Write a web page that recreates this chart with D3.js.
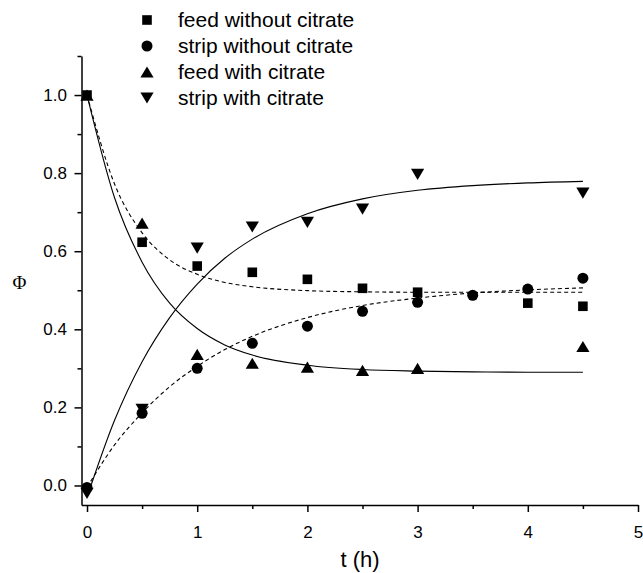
<!DOCTYPE html>
<html lang="en">
<head>
<meta charset="UTF-8">
<title>Phi vs t</title>
<script src="https://d3js.org/d3.v7.min.js"></script>
<style>
  body { margin: 0; background: #fff; }
  svg text { font-family: "Liberation Sans", Arial, sans-serif; fill: #000; }
</style>
</head>
<body>
<div id="chart"></div>
<script>
// measured points
var seriesNames = ["feed without citrate", "strip without citrate", "feed with citrate", "strip with citrate"];
var tSquare = [0, 0.5, 1, 1.5, 2, 2.5, 3, 4, 4.5];
var feedWithout = [1.0, 0.623, 0.562, 0.546, 0.528, 0.505, 0.495, 0.467, 0.459];
var tCircle = [0, 0.5, 1, 1.5, 2, 2.5, 3, 3.5, 4, 4.5];
var stripWithout = [-0.005, 0.185, 0.300, 0.364, 0.408, 0.446, 0.469, 0.487, 0.503, 0.531];
var tTri = [0, 0.5, 1, 1.5, 2, 2.5, 3, 4.5];
var feedWith = [1.0, 0.672, 0.336, 0.313, 0.303, 0.295, 0.300, 0.356];
var stripWith = [-0.02, 0.195, 0.608, 0.662, 0.674, 0.708, 0.797, 0.749];

// fitted curves
var tFit = [0, 0.25, 0.5, 0.75, 1, 1.25, 1.5, 2, 2.5, 3, 3.5, 4, 4.5];
var fitFeedWithout = [1.0, 0.772, 0.647, 0.578, 0.541, 0.520, 0.509, 0.499, 0.496, 0.495, 0.495, 0.495, 0.495];
var fitStripWithout = [-0.005, 0.104, 0.186, 0.253, 0.305, 0.348, 0.382, 0.430, 0.461, 0.480, 0.493, 0.501, 0.506];
var fitFeedWith = [1.0, 0.737, 0.572, 0.467, 0.402, 0.360, 0.334, 0.308, 0.297, 0.293, 0.291, 0.290, 0.290];
var fitStripWith = [-0.03, 0.167, 0.317, 0.430, 0.516, 0.582, 0.631, 0.696, 0.734, 0.756, 0.768, 0.775, 0.779];

var xMajor = [0, 1, 2, 3, 4, 5];
var xMinor = [0.5, 1.5, 2.5, 3.5, 4.5];
var yMajor = [0, 0.2, 0.4, 0.6, 0.8, 1.0];
var yMinor = [0.1, 0.3, 0.5, 0.7, 0.9, 1.1];

var width = 643, height = 573;

var x = d3.scaleLinear().domain([-0.05, 5]).range([81.5, 638]);
var y = d3.scaleLinear().domain([-0.05, 1.1]).range([505, 56]);

var svg = d3.select("#chart").append("svg")
    .attr("width", width)
    .attr("height", height);

function zip(ts, vs) { return ts.map(function (t, i) { return [t, vs[i]]; }); }

// fit lines
var line = d3.line()
    .x(function (d) { return x(d[0]); })
    .y(function (d) { return y(d[1]); })
    .curve(d3.curveMonotoneX);

var fits = [
    { data: zip(tFit, fitFeedWithout), dash: "4,3" },
    { data: zip(tFit, fitStripWithout), dash: "4,3" },
    { data: zip(tFit, fitFeedWith), dash: null },
    { data: zip(tFit, fitStripWith), dash: null }
];

svg.selectAll("path.fit")
    .data(fits)
    .enter().append("path")
    .attr("class", "fit")
    .attr("d", function (d) { return line(d.data); })
    .attr("fill", "none")
    .attr("stroke", "#000")
    .attr("stroke-width", 1.1)
    .attr("stroke-dasharray", function (d) { return d.dash; });

// marker shapes
function shapePath(kind) {
    if (kind === "square") return "M-4.8,-4.8H4.8V4.8H-4.8Z";
    if (kind === "circle") return "M5.5,0A5.5,5.5 0 1,1 -5.5,0A5.5,5.5 0 1,1 5.5,0Z";
    if (kind === "up") return "M0,-5.6L6.6,5.6L-6.6,5.6Z";
    return "M0,5.6L6.6,-5.6L-6.6,-5.6Z";
}

var markerSets = [
    { kind: "square", data: zip(tSquare, feedWithout) },
    { kind: "circle", data: zip(tCircle, stripWithout) },
    { kind: "up", data: zip(tTri, feedWith) },
    { kind: "down", data: zip(tTri, stripWith) }
];

markerSets.forEach(function (s) {
    svg.append("g").selectAll("path")
        .data(s.data)
        .enter().append("path")
        .attr("d", shapePath(s.kind))
        .attr("transform", function (d) { return "translate(" + x(d[0]) + "," + y(d[1]) + ")"; })
        .attr("fill", "#000");
});

// axes
function styleAxis(g) {
    g.selectAll("path.domain").attr("stroke-width", 1.5);
    g.selectAll(".tick line").attr("stroke-width", 1.5);
}

var gx = svg.append("g").attr("transform", "translate(0," + y(-0.05) + ")");
gx.call(d3.axisBottom(x).tickValues(xMajor).tickSize(7).tickSizeOuter(0)
        .tickPadding(14).tickFormat(d3.format("d")))
    .call(styleAxis);
gx.selectAll("text").style("font-size", "17px");
gx.append("g").call(d3.axisBottom(x).tickValues(xMinor).tickSize(4).tickFormat(""))
    .call(function (g) { g.select(".domain").remove(); })
    .call(styleAxis);

var gy = svg.append("g").attr("transform", "translate(" + x(-0.05) + ",0)");
gy.call(d3.axisLeft(y).tickValues(yMajor).tickSize(7).tickSizeOuter(0)
        .tickPadding(7.5).tickFormat(d3.format(".1f")))
    .call(styleAxis);
gy.selectAll("text").style("font-size", "17px");
gy.append("g").call(d3.axisLeft(y).tickValues(yMinor).tickSize(4).tickFormat(""))
    .call(function (g) { g.select(".domain").remove(); })
    .call(styleAxis);

// axis titles
svg.append("text")
    .attr("x", 360).attr("y", 567)
    .attr("text-anchor", "middle")
    .style("font-size", "22px")
    .text("t (h)");

svg.append("text")
    .attr("x", 19.5).attr("y", 282)
    .attr("dy", "0.35em")
    .attr("text-anchor", "middle")
    .style("font-family", "'Liberation Serif', 'Times New Roman', serif")
    .style("font-size", "19px")
    .text("\u03A6");

// legend
var kinds = ["square", "circle", "up", "down"];
var legend = svg.append("g");
seriesNames.forEach(function (name, i) {
    var ly = 20 + i * 26;
    legend.append("path")
        .attr("d", shapePath(kinds[i]))
        .attr("transform", "translate(147," + ly + ")")
        .attr("fill", "#000");
    legend.append("text")
        .attr("x", 178).attr("y", ly)
        .attr("dy", "0.35em")
        .style("font-size", "21px")
        .text(name);
});
</script>
</body>
</html>
